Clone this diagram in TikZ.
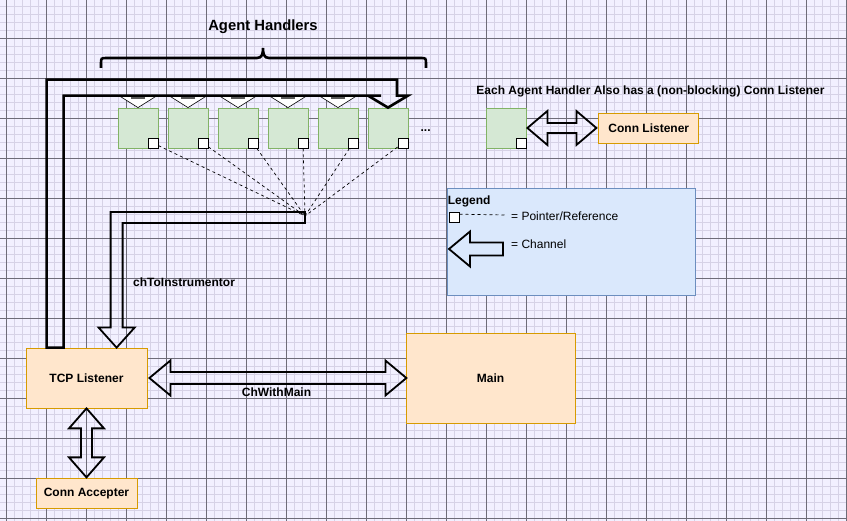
\documentclass[tikz,border=0pt]{standalone}
\usepackage{fontspec}
\setmainfont{Liberation Sans}
\usetikzlibrary{positioning, calc}

\definecolor{gridbg}{HTML}{F2F0FF}
\definecolor{gridminor}{HTML}{D6D2E6}
\definecolor{gridmajor}{HTML}{6E6C78}
\definecolor{greenfill}{HTML}{D5E8D4}
\definecolor{greenline}{HTML}{82B366}
\definecolor{orangefill}{HTML}{FFE6CC}
\definecolor{orangeline}{HTML}{D79B00}
\definecolor{bluefill}{HTML}{DAE8FC}
\definecolor{blueline}{HTML}{6C8EBF}

\begin{document}
\begin{tikzpicture}[
        x=1pt, y=-1pt,
        font=\fontsize{12}{14}\selectfont,
        handler/.style={rectangle, draw=greenline, fill=greenfill, line width=0.8pt, minimum size=40pt, inner sep=0pt},
        pointer/.style={rectangle, draw=black, fill=white, line width=0.8pt, minimum size=10pt, inner sep=0pt},
        process/.style={rectangle, draw=orangeline, fill=orangefill, line width=0.8pt, inner sep=0pt, font=\bfseries\fontsize{12}{14}\selectfont},
        boldtext/.style={inner sep=0pt, font=\bfseries\fontsize{12}{14}\selectfont},
        channel/.style={draw=black, line width=1.8pt},
        bigchannel/.style={draw=black, line width=2.6pt},
        reference/.style={draw=black, line width=0.7pt, dash pattern=on 3pt off 3pt},
    ]
        \useasboundingbox (0,0) rectangle (847,521);

        % Draw the background grid
        \fill[gridbg] (0,0) rectangle (847,521);
        \foreach \gx in {6.5,14.5,...,846.5}
            \draw[gridminor, line width=0.8pt] (\gx,0) -- (\gx,521);
        \foreach \gy in {6,14,...,518}
            \draw[gridminor, line width=0.8pt] (0,\gy) -- (847,\gy);
        \foreach \gx in {6.5,46.5,...,846.5}
            \draw[gridmajor, line width=0.8pt] (\gx,0) -- (\gx,521);
        \foreach \gy in {38,78,...,518}
            \draw[gridmajor, line width=0.8pt] (0,\gy) -- (847,\gy);

        % Draw the agent handler nodes
        \foreach \name in {1,...,6}
            \node[handler] (H-\name) at (88+50*\name,128) {};
        \foreach \name in {1,...,6}
            \node[pointer, anchor=south east] (P-\name) at (H-\name.south east) {};
        \node[boldtext, anchor=base west] (more) at ($(H-6.east)+(12,4)$) {...};

        % Brace and title over the handlers
        \draw[line width=2.6pt] (101,68) -- (101,64) .. controls (101,58) .. (107,58) -- (257,58)
            .. controls (262,58) and (263,54) .. (263,48) .. controls (263,54) and (264,58) .. (269,58)
            -- (420,58) .. controls (426,58) .. (426,64) -- (426,68);
        \node[boldtext, font=\bfseries\fontsize{14.8}{17}\selectfont] (agents) at (263,27) {Agent Handlers};

        % Draw the process nodes
        \node[process, minimum width=121pt, minimum height=60pt] (tcp) at (86.5,378) {TCP Listener};
        \node[process, minimum width=101pt, minimum height=30pt, below=70pt of tcp] (accepter) {Conn Accepter};
        \node[process, minimum width=169pt, minimum height=90pt] (main) at (490.5,378) {Main};

        % Small heads of the channel into each handler
        \foreach \name in {1,...,5} {
            \filldraw[fill=white, draw=black, line width=0.6pt] (H-\name.north) -- ++(-17.5,-11) -- ++(35,0) -- cycle;
            \fill[black!65] ($(H-\name.north)+(-7,-11)$) rectangle ++(14,2.5);
        }

        % Channel from the TCP listener to the handlers
        \draw[bigchannel] ($(tcp.north west)+(21,0)$) |- ($(H-6.north)+(9,-28)$) -- ++(0,16) -- ++(11,0)
            -- (H-6.north) -- ++(-20,-12) -- ++(13,0) -| ($(tcp.north west)+(38,0)$) -- cycle;

        % Channel from the handlers to the TCP listener
        \coordinate (hub) at (305,216);
        \coordinate (instr tip) at ($(tcp.north west)+(91,0)$);
        \draw[channel] ($(hub)+(0,-4)$) -| ($(instr tip)+(-6,-20)$) -- ++(-12,0) -- (instr tip)
            -- ++(18,-20) -- ++(-12,0) |- ($(hub)+(0,7)$) -- cycle;
        \node[boldtext, anchor=west] (instr label) at (133,282) {chToInstrumentor};

        % Pointers from every handler
        \foreach \name in {1,...,6}
            \draw[reference] (P-\name) -- (hub);

        % Channel between the TCP listener and main
        \draw[channel] ($(tcp.east)+(2,0)$) -- ++(21,-17.5) -- ++(0,11.5) -- ++(215,0) -- ++(0,-11.5) -- ++(21,17.5)
            -- ++(-21,17.5) -- ++(0,-11.5) -- ++(-215,0) -- ++(0,11.5) -- cycle;
        \node[boldtext] (chmain) at ($(tcp.east)!0.5!(main.west)+(0,14)$) {ChWithMain};

        % Channel between the TCP listener and the conn accepter
        \draw[channel] (tcp.south) -- ++(17.5,20) -- ++(-12,0) -- ++(0,29) -- ++(12,0) -- ++(-17.5,20)
            -- ++(-17.5,-20) -- ++(12,0) -- ++(0,-29) -- ++(-12,0) -- cycle;

        % A single handler with its conn listener
        \node[boldtext] (note) at (650.5,91) {Each Agent Handler Also has a (non-blocking) Conn Listener};
        \node[handler] (AH) at (506,128) {};
        \node[pointer, anchor=south east] (AP) at (AH.south east) {};
        \node[process, minimum width=100pt, minimum height=30pt, right=72pt of AH] (listener) {Conn Listener};
        \draw[channel] ($(AH.east)+(1,0)$) -- ++(20,-17) -- ++(0,12) -- ++(29,0) -- ++(0,-12) -- ++(20,17)
            -- ++(-20,17) -- ++(0,-12) -- ++(-29,0) -- ++(0,12) -- cycle;

        % Draw the legend
        \node[rectangle, draw=blueline, fill=bluefill, line width=0.8pt, minimum width=248pt, minimum height=107pt] (legend) at (571,241.5) {};
        \node[boldtext, anchor=west] (leg title) at ($(legend.north west)+(1,14)$) {Legend};
        \node[pointer] (leg ptr) at ($(legend.north west)+(7.5,30)$) {};
        \coordinate (leg ptr end) at (505,215);
        \draw[reference] ($(leg ptr.north east)+(0,2)$) -- (leg ptr end);
        \node[inner sep=0pt, anchor=west] (leg ptr text) at (511,216) {= Pointer/Reference};
        \draw[channel] (449,249) -- ++(21,-17.5) -- ++(0,11) -- ++(33,0) -- ++(0,13) -- ++(-33,0) -- ++(0,11) -- cycle;
        \node[inner sep=0pt, anchor=west] (leg chan text) at (511,244) {= Channel};
    \end{tikzpicture}
\end{document}
